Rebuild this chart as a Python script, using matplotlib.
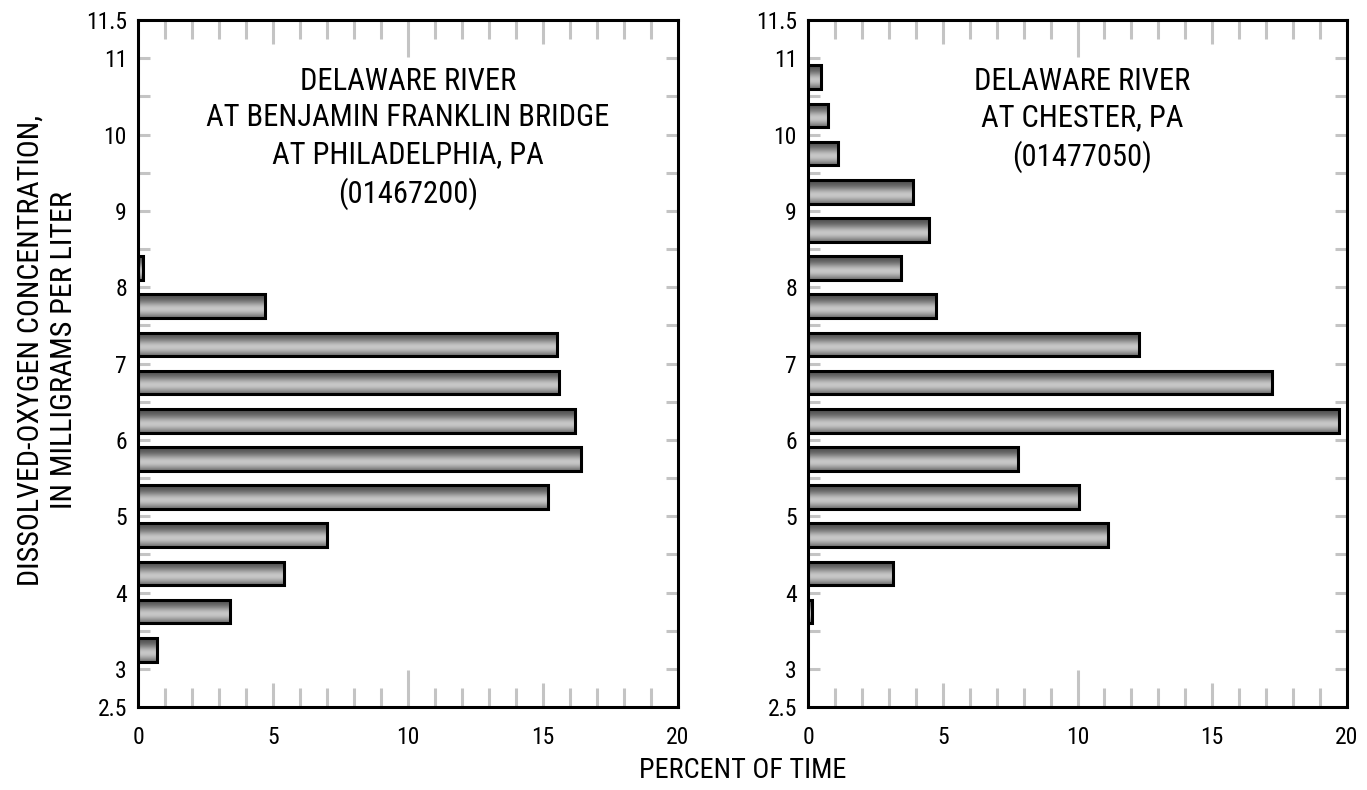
import numpy as np
import matplotlib
matplotlib.use("Agg")
import matplotlib.pyplot as plt
from matplotlib import font_manager as fm
from matplotlib.ticker import FixedLocator, FixedFormatter

names = {f.name for f in fm.fontManager.ttflist}
fam = [n for n in ['Liberation Sans Narrow', 'Roboto Condensed', 'Open Sans Condensed']
       if n in names]
plt.rcParams['font.family'] = fam + ['DejaVu Sans']
plt.rcParams['font.stretch'] = 'condensed'

# ---- data ----
left_title = "DELAWARE RIVER\nAT BENJAMIN FRANKLIN BRIDGE\nAT PHILADELPHIA, PA\n(01467200)"
left_conc = [3.25, 3.75, 4.25, 4.75, 5.25, 5.75, 6.25, 6.75, 7.25, 7.75, 8.25]
left_pct = [0.7, 3.4, 5.4, 7.0, 15.2, 16.4, 16.2, 15.6, 15.5, 4.7, 0.2]

right_title = "DELAWARE RIVER\nAT CHESTER, PA\n(01477050)"
right_conc = [3.75, 4.25, 4.75, 5.25, 5.75, 6.25, 6.75, 7.25, 7.75, 8.25,
              8.75, 9.25, 9.75, 10.25, 10.75]
right_pct = [0.15, 3.15, 11.15, 10.05, 7.8, 19.7, 17.2, 12.3, 4.75, 3.45,
             4.5, 3.9, 1.1, 0.75, 0.5]

y_ticks = [2.5, 3, 4, 5, 6, 7, 8, 9, 10, 11, 11.5]
y_ticklabels = ["2.5", "3", "4", "5", "6", "7", "8", "9", "10", "11", "11.5"]
y_minor = [3.5, 4.5, 5.5, 6.5, 7.5, 8.5, 9.5, 10.5]
x_ticks = [0, 5, 10, 15, 20]
x_minor = [i for i in range(1, 20) if i % 5 != 0]

fig = plt.figure(figsize=(13.67, 7.9), dpi=100)
ax1 = fig.add_axes([138/1367, 1-707/790, 540/1367, 687/790])
ax2 = fig.add_axes([808/1367, 1-707/790, 539/1367, 687/790])

# vertical gradient for cylinder look (top -> bottom)
t = np.linspace(0, 1, 64)
grad = 0.30 + 0.48 * np.exp(-((t - 0.62) / 0.33) ** 2)
grad_img = grad.reshape(-1, 1)

tick_gray = '#c4c4c4'

def panel(ax, conc, pct, title, title_x):
    bars = ax.barh(conc, pct, height=0.31, facecolor='none',
                   edgecolor='black', linewidth=2.2, zorder=3)
    for b in bars:
        x0, y0 = b.get_x(), b.get_y()
        w, h = b.get_width(), b.get_height()
        im = ax.imshow(grad_img, cmap='gray', vmin=0, vmax=1, aspect='auto',
                       extent=(x0, x0 + w, y0, y0 + h), origin='upper',
                       interpolation='bilinear', zorder=2)
        im.set_clip_path(b)
    ax.set_xlim(0, 20)
    ax.set_ylim(2.5, 11.5)
    for s in ax.spines.values():
        s.set_linewidth(2.2)
        s.set_color('black')
    ax.yaxis.set_major_locator(FixedLocator(y_ticks))
    ax.yaxis.set_major_formatter(FixedFormatter(y_ticklabels))
    ax.yaxis.set_minor_locator(FixedLocator(y_minor))
    ax.xaxis.set_major_locator(FixedLocator(x_ticks))
    ax.xaxis.set_minor_locator(FixedLocator(x_minor))
    ax.tick_params(axis='y', which='both', direction='in', left=True, right=True,
                   length=8.5, width=2.2, color=tick_gray, labelsize=17, pad=8)
    ax.tick_params(axis='x', which='major', direction='in', top=True, bottom=True,
                   length=17, width=2.2, color=tick_gray, labelsize=17, pad=14)
    ax.tick_params(axis='x', which='minor', direction='in', top=True, bottom=True,
                   length=13.5, width=2.2, color=tick_gray)
    yt = ax.yaxis.get_major_ticks()
    for tk in (yt[0], yt[-1]):
        tk.tick1line.set_visible(False)
        tk.tick2line.set_visible(False)
    xt = ax.xaxis.get_major_ticks()
    for tk in (xt[0], xt[-1]):
        tk.tick1line.set_visible(False)
        tk.tick2line.set_visible(False)
    xt[2].tick1line.set_markersize(26.5)
    xt[2].tick2line.set_markersize(26.5)
    ax.text(title_x, 0.932, title, transform=ax.transAxes, ha='center', va='top',
            fontsize=22, linespacing=1.33)

panel(ax1, left_conc, left_pct, left_title, 0.5)
panel(ax2, right_conc, right_pct, right_title, 0.508)

fig.text(743/1367, 1-770/790, "PERCENT OF TIME", ha='center', va='center', fontsize=20.3)
fig.text(47/1367, 1-350/790, "DISSOLVED-OXYGEN CONCENTRATION,\nIN MILLIGRAMS PER LITER",
         ha='center', va='center', rotation=90, fontsize=21.6, linespacing=1.25)

fig.savefig("out.png", dpi=100)
